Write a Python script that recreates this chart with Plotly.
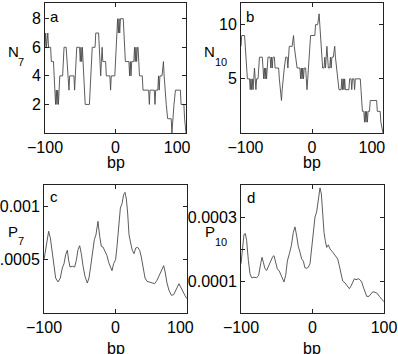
import plotly.graph_objects as go

# ---- data ----
bp_a = [-100,-99,-98,-97,-96,-95,-92,-91,-88,-87,-86,-85,-84,-83,-82,-81,-80,-79,-75,-74,
        -73,-70,-69,-68,-66,-65,-59,-58,-57,-56,-55,-51,-50,-49,-48,-47,-46,-45,-44,-43,
        -37,-36,-35,-34,-33,-29,-28,-24,-23,-22,-21,-20,-19,-18,-14,-13,-8,-7,-6,-1,
        0,1,2,3,4,5,6,7,11,12,13,14,19,20,21,22,23,26,27,28,
        29,30,31,32,33,34,38,39,47,48,49,55,56,57,60,61,62,63,66,67,
        68,69,70,72,74,79,80,81,83,85,92,93,97,98,99,100]
n7 = [6,7,6,7,7,6,6,5,5,4,3,2,3,2,3,2,3,4,4,5,
      6,6,5,4,3,4,4,3,4,5,6,6,5,6,5,6,5,4,3,2,
      2,3,4,5,6,6,7,7,6,5,4,5,6,5,5,4,4,3,4,4,
      5,6,7,8,7,8,7,8,8,7,6,5,5,4,5,4,5,5,6,5,
      6,5,6,6,5,4,4,3,3,2,3,3,2,3,3,4,3,4,4,5,
      5,4,3,2,1,1,0,1,2,3,3,2,2,1,0,0]

bp_b = [-100,-99,-95,-94,-93,-92,-91,-88,-87,-86,-85,-84,-83,-82,-81,-80,-79,-78,-76,-75,
        -74,-70,-69,-68,-67,-66,-65,-64,-63,-62,-59,-58,-57,-56,-55,-53,-52,-47,-46,-44,
        -43,-42,-41,-39,-37,-35,-34,-33,-32,-28,-27,-26,-25,-23,-21,-17,-16,-15,-14,-13,
        -12,-11,-9,-8,-7,-6,-5,-4,-3,-2,4,5,8,9,10,11,12,13,14,15,
        17,18,19,20,21,22,23,25,26,27,28,30,31,32,33,35,36,38,41,42,
        43,44,45,46,47,52,53,55,56,57,59,60,61,68,69,70,71,73,74,75,
        76,77,78,79,81,82,91,92,96,97,99,100]
n10 = [8,9,9,8,7,6,5,5,4,5,4,5,4,5,6,5,4,5,5,6,
       7,7,6,5,6,5,6,5,6,7,7,6,7,6,7,7,6,6,5,4,
       3,4,5,6,7,7,6,7,8,8,9,9,8,7,6,6,5,6,5,6,
       5,6,6,5,4,5,6,7,8,9,9,10,10,11,11,10,9,8,7,6,
       6,7,6,7,8,7,6,6,7,6,7,7,8,8,7,6,5,4,4,5,
       4,5,4,5,4,4,5,5,4,5,5,4,5,5,4,3,2,2,1,2,
       1,2,1,2,2,3,3,2,2,1,0,0]

bp_c = [-100,-96.7,-93.5,-91.1,-88.8,-86.5,-83.7,-80.4,-77.2,-74.4,-72,-69.7,-67.4,-65.5,-63.6,
        -60.4,-57.1,-54.8,-52.4,-50.1,-47.8,-45.5,-42.7,-39.4,-37.1,-34.7,-32.4,-29.6,-27.3,
        -24.5,-22.1,-19.8,-17.5,-14.7,-11.9,-9.6,-7.2,-4.9,-2.6,0.2,2.1,4.4,6.8,9.1,11.4,
        13.3,15.2,17,18.9,21.2,23.5,25.9,28.2,31,33.8,36.1,38.5,41.3,44.1,47.8,51.5,54.8,
        58,60.8,64.1,67.4,69.7,72,74.8,78.1,81.4,84.1,86.5,88.8,91.1,94.4,97.2,100]
p7 = [0.000500,0.000656,0.000766,0.000703,0.000578,0.000438,0.000328,0.000291,0.000328,
      0.000422,0.000463,0.000547,0.000588,0.000494,0.000431,0.000438,0.000431,0.000494,
      0.000594,0.000631,0.000556,0.000444,0.000344,0.000281,0.000328,0.000438,0.000547,
      0.000688,0.000734,0.000859,0.000719,0.000625,0.000619,0.000569,0.000538,0.000475,
      0.000431,0.000397,0.000463,0.000500,0.000625,0.000828,0.000984,0.001025,0.001109,
      0.001131,0.001069,0.000938,0.000734,0.000656,0.000588,0.000556,0.000609,0.000616,
      0.000588,0.000525,0.000444,0.000328,0.000297,0.000288,0.000281,0.000275,0.000306,
      0.000350,0.000397,0.000444,0.000375,0.000281,0.000213,0.000166,0.000172,0.000213,
      0.000256,0.000275,0.000244,0.000194,0.000163,0.000134]

bp_d = [-100,-98.1,-95.8,-93.9,-92.1,-89.7,-87.4,-85.1,-81.8,-78.1,-75.3,-72.5,-70.6,-68.8,
        -66.4,-64.1,-60.8,-58,-55.7,-53.8,-51.5,-49.2,-46.4,-44.1,-41.7,-39.9,-37.5,-35.2,
        -32.4,-29.6,-26.8,-24.5,-22.1,-19.8,-17.5,-15.2,-12.8,-10.5,-8.2,-5.8,-3.5,-1.2,
        1.2,3.5,5.8,8.2,10.5,12.4,14.2,16.1,17.9,19.8,22.1,24.5,27.3,30.1,32.9,35.2,37.5,
        39.4,42.2,45.5,48.7,51.5,53.8,56.2,58.5,60.8,64.1,66.4,68.8,71.1,73.4,75.8,79,
        81.8,84.1,87.4,90.7,93.5,96.7,100]
p10 = [0.000154,0.000200,0.000246,0.000248,0.000226,0.000164,0.000123,0.000110,0.000112,
       0.000110,0.000118,0.000154,0.000174,0.000159,0.000138,0.000133,0.000148,0.000164,
       0.000176,0.000179,0.000159,0.000138,0.000131,0.000118,0.000102,0.000097,0.000118,
       0.000162,0.000185,0.000210,0.000252,0.000269,0.000241,0.000207,0.000190,0.000169,
       0.000162,0.000141,0.000140,0.000143,0.000154,0.000200,0.000267,0.000300,0.000316,
       0.000355,0.000391,0.000372,0.000308,0.000252,0.000226,0.000205,0.000213,0.000200,
       0.000193,0.000185,0.000176,0.000169,0.000148,0.000123,0.000100,0.000094,0.000084,
       0.000076,0.000084,0.000097,0.000107,0.000104,0.000107,0.000104,0.000097,0.000081,
       0.000063,0.000052,0.000052,0.000061,0.000066,0.000065,0.000061,0.000052,0.000045,
       0.000035]

x_ticks = [-100, 0, 100]
x_ticktext = ["\u2212100", "0", "100"]

W, H = 398, 354
FONT = "Liberation Sans, Arial, sans-serif"
LINE = dict(color="#4a4a4a", width=0.9)
FS = "\u2007"   # figure space (digit width)
PS = "\u2008"   # punctuation space

fig = go.Figure()
fig.add_trace(go.Scatter(x=bp_a, y=n7, mode="lines", line=LINE, xaxis="x", yaxis="y", showlegend=False))
fig.add_trace(go.Scatter(x=bp_b, y=n10, mode="lines", line=LINE, xaxis="x2", yaxis="y2", showlegend=False))
fig.add_trace(go.Scatter(x=bp_c, y=p7, mode="lines", line=LINE, xaxis="x3", yaxis="y3", showlegend=False))
fig.add_trace(go.Scatter(x=bp_d, y=p10, mode="lines", line=LINE, xaxis="x4", yaxis="y4", showlegend=False))

def px_x(v):
    return v / W

def px_y(v):
    return 1 - v / H

common_axis = dict(showline=True, linecolor="#222", linewidth=1, mirror="ticks",
                   ticks="inside", ticklen=4, tickcolor="#222", showgrid=False,
                   zeroline=False, automargin=False, ticklabeloverflow="allow",
                   tickfont=dict(family=FONT, size=16, color="black"))

def xax(d0, d1, anchor, lpad, rpad):
    tt = [lpad + x_ticktext[0], x_ticktext[1], x_ticktext[2] + rpad]
    return dict(common_axis, domain=[px_x(d0), px_x(d1)], range=[-100, 100],
                tickvals=x_ticks, ticktext=tt, anchor=anchor)

def yax(d0, d1, rng, tv, tt, anchor):
    return dict(common_axis, domain=[px_y(d1), px_y(d0)], range=rng,
                tickvals=tv, ticktext=tt, anchor=anchor)

fig.update_layout(
    width=W, height=H,
    margin=dict(l=0, r=0, t=0, b=0, autoexpand=False),
    paper_bgcolor="white", plot_bgcolor="white",
    font=dict(family=FONT, size=16, color="black"),
    xaxis=xax(45, 186, "y", "", FS * 2),
    yaxis=yax(3, 133, [0, 9.1], [2, 4, 6, 8], ["2", "4", "6", "8"], "x"),
    xaxis2=xax(241, 383, "y2", FS, FS * 2 + PS),
    yaxis2=yax(3, 133, [0, 12], [5, 10], ["5", "10"], "x2"),
    xaxis3=xax(44, 187, "y3", "", FS + PS),
    yaxis3=yax(185, 313, [0, 0.0012], [0.0005, 0.001], ["0.0005", "0.001"], "x3"),
    xaxis4=xax(241, 384, "y4", "", ""),
    yaxis4=yax(185, 313, [0, 0.0004], [0.0001, 0.0002, 0.0003], ["0.0001", "", "0.0003"], "x4"),
)

def txt_ann(text, x, y, size, xanchor="center"):
    return dict(text=text, x=px_x(x), y=px_y(y), xref="paper", yref="paper",
                xanchor=xanchor, yanchor="middle", showarrow=False,
                font=dict(family=FONT, size=size, color="black"))

ann = []
# y-axis labels: main letter plus lowered subscript
for main, sub, mx, my, sx, sy in [("N", "7", 13, 52, 21, 62), ("N", "10", 210, 52, 221, 62),
                                  ("P", "7", 13, 231, 21, 241), ("P", "10", 210, 232, 221, 242)]:
    ann.append(txt_ann(main, mx, my, 15))
    ann.append(txt_ann(sub, sx, sy, 11))
for t, x, y in [("a", 54, 16), ("b", 250, 16), ("c", 54, 196), ("d", 251, 198)]:
    ann.append(txt_ann(t, x, y, 15))
for x, y in [(116, 162), (312, 162), (116, 348), (312, 348)]:
    ann.append(txt_ann("bp", x, y, 16))
fig.update_layout(annotations=ann)

fig.write_html("out.html", config={"displayModeBar": False},
               post_script="document.body.style.margin='0px';document.body.style.overflow='hidden';")
